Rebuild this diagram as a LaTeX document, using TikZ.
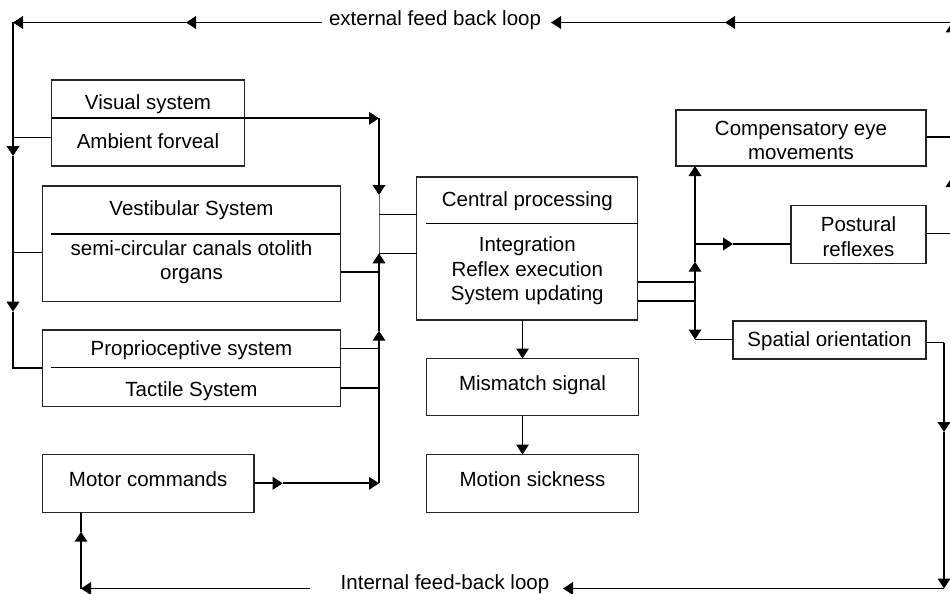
\documentclass[tikz,border=0pt]{standalone}
\usepackage{fontspec}
\setmainfont{Liberation Sans}
\usetikzlibrary{arrows.meta}
\begin{document}
\begin{tikzpicture}[x=1pt,y=-1pt,
  box/.style={draw=black!85, line width=1.1pt, inner sep=0pt, outer sep=0pt},
  lbl/.style={anchor=base, inner sep=0pt, font=\fontsize{20.5}{25}\selectfont},
  thk/.style={line width=1.9pt},
  thn/.style={line width=1.2pt},
  arr/.style={-{Triangle[length=10pt,width=12.5pt]}}]
\clip (0,0) rectangle (950,594);
% boxes
\node[box, minimum width=192.6pt, minimum height=86pt]   (vis)  at (148,123) {};
\node[box, minimum width=298.4pt, minimum height=115.7pt] (ves) at (191.5,243.85) {};
\node[box, minimum width=298.4pt, minimum height=76.7pt] (pro)  at (191.5,368.35) {};
\node[box, minimum width=211.7pt, minimum height=58.4pt] (mot)  at (148.15,483.5) {};
\node[box, minimum width=221pt,   minimum height=143pt]  (cen)  at (527.3,248.5) {};
\node[box, minimum width=211.6pt, minimum height=57.2pt] (mis)  at (532.5,387.1) {};
\node[box, minimum width=211.6pt, minimum height=58pt]   (moti) at (532.5,483.5) {};
\node[box, minimum width=250pt,   minimum height=56pt]   (com)  at (801,138) {};
\node[box, minimum width=135pt,   minimum height=57.6pt] (pos)  at (858.5,234.5) {};
\node[box, minimum width=193pt,   minimum height=38pt]   (spa)  at (829.5,340) {};
% labels
\node[lbl] (t1)  at (148,109.3) {Visual system};
\node[lbl] (t2)  at (148,148.5) {Ambient forveal};
\node[lbl] (t3)  at (191.5,215.6) {Vestibular System};
\node[lbl] (t4)  at (191.5,255) {semi-circular canals otolith};
\node[lbl] (t5)  at (191.5,279.8) {organs};
\node[lbl] (t6)  at (191.5,355.7) {Proprioceptive system};
\node[lbl] (t7)  at (191.5,396.7) {Tactile System};
\node[lbl] (t8)  at (148.15,486) {Motor commands};
\node[lbl] (t9)  at (527.3,206) {Central processing};
\node[lbl] (t10) at (527.3,251) {Integration};
\node[lbl] (t11) at (527.3,276.5) {Reflex execution};
\node[lbl] (t12) at (527.3,300.5) {System updating};
\node[lbl] (t13) at (532.5,390) {Mismatch signal};
\node[lbl] (t14) at (532.5,486) {Motion sickness};
\node[lbl] (t15) at (801,135) {Compensatory eye};
\node[lbl] (t16) at (801,159.3) {movements};
\node[lbl] (t17) at (858.5,231) {Postural};
\node[lbl] (t18) at (858.5,256) {reflexes};
\node[lbl] (t19) at (829.5,346) {Spatial orientation};
\node[lbl] (ext) at (435,26) {external feed back loop};
\node[lbl] (int) at (445,589.3) {Internal feed-back loop};
% coordinates
\coordinate (rt) at (952,22.5);
\coordinate (a1) at (725,22.5);
\coordinate (a2) at (551,22.5);
\coordinate (a3) at (321.7,22.5);
\coordinate (a4) at (186,22.5);
\coordinate (lt) at (13,22.5);
\coordinate (l1) at (13,156);
\coordinate (l2) at (13,311.7);
\coordinate (lb) at (13,367.7);
\coordinate (lv) at (13,137.3);
\coordinate (lves) at (13,252.7);
\coordinate (b0) at (379,118.3);
\coordinate (b1) at (379,195);
\coordinate (b2) at (379,253.3);
\coordinate (b3) at (379,330.7);
\coordinate (b4) at (379,483.3);
\coordinate (m1) at (282.7,483.3);
\coordinate (c1) at (379,214.5);
\coordinate (v1) at (379,272);
\coordinate (p1) at (379,348.3);
\coordinate (p2) at (379,388);
\coordinate (vd) at (51,234);
\coordinate (pd) at (51,367.7);
\coordinate (cd) at (426.3,223.5);
\coordinate (cmx) at (522.5,0);
\coordinate (o1) at (695,282);
\coordinate (o2) at (695,301);
\coordinate (r1) at (695,261.7);
\coordinate (r2) at (695,339.5);
\coordinate (rp) at (695,244);
\coordinate (rpa) at (733,244);
\coordinate (rc) at (952,137);
\coordinate (rpp) at (952,233.3);
\coordinate (ra) at (952,177);
\coordinate (s1) at (944,342.5);
\coordinate (s2) at (944,432);
\coordinate (s3) at (944,588.5);
\coordinate (s4) at (563,588.5);
\coordinate (s5) at (310,588.5);
\coordinate (s6) at (81,588.5);
\coordinate (s7) at (81,531.7);
% external loop
\draw[thk,arr] (rt) -- (a1);
\draw[thk,arr] (a1) -- (a2);
\draw[thk,arr] (a3) -- (a4);
\draw[thk,arr] (a4) -- (lt);
\draw[thk,arr] (lt) -- (l1);
\draw[thk,arr] (l1) -- (l2);
\draw[thk] (l2) -- (lb) -- (lb -| pro.west);
\draw[thn] (lv) -- (lv -| vis.west);
\draw[thn] (lves) -- (lves -| ves.west);
% dividers
\draw[thn] (vd) -- (vd -| ves.east);
\draw[thn] (pd) -- (pd -| pro.east);
\draw[thn] (cd) -- (cd -| cen.east);
% left bus
\draw[thk,arr] (vis.west |- b0) -- (b0);
\draw[thk,arr] (b0) -- (b1);
\draw[line width=0.8pt, black!60] (b1) -- (b2);
\draw[thn] (c1) -- (c1 -| cen.west);
\draw[thn] (b2) -- (b2 -| cen.west);
\draw[thn] (ves.east |- v1) -- (v1);
\draw[thn] (pro.east |- p1) -- (p1);
\draw[thn] (pro.east |- p2) -- (p2);
\draw[thk,arr] (mot.east |- m1) -- (m1);
\draw[thk,arr] (m1) -- (b4);
\draw[thk,arr] (b4) -- (b3);
\draw[thk,arr] (b3) -- (b2);
% central down
\draw[thk,arr] (cen.south -| cmx) -- (mis.north -| cmx);
\draw[thk,arr] (mis.south -| cmx) -- (moti.north -| cmx);
% right bus
\draw[thn] (o1 -| cen.east) -- (o1);
\draw[thn] (o2 -| cen.east) -- (o2);
\draw[thk,arr] (o2) -- (r1);
\draw[thk,arr] (o1) -- (r2);
\draw[thk,arr] (r1) -- (r1 |- com.south);
\draw[thk,arr] (rp) -- (rpa);
\draw[thn] (rpa) -- (rpa -| pos.west);
\draw[thn] (r2) -- (r2 -| spa.west);
% right edge
\draw[thn] (com.east |- rc) -- (rc);
\draw[thn] (pos.east |- rpp) -- (rpp);
\draw[thk,arr] (rpp) -- (ra);
\draw[thk,arr] (ra) -- (rt);
% internal loop
\draw[thn] (spa.east |- s1) -- (s1);
\draw[thk,arr] (s1) -- (s2);
\draw[thk,arr] (s2) -- (s3);
\draw[thk,arr] (s3) -- (s4);
\draw[thk,arr] (s5) -- (s6);
\draw[thk,arr] (s6) -- (s7);
\draw[thk] (s7) -- (s7 |- mot.south);
\end{tikzpicture}
\end{document}
